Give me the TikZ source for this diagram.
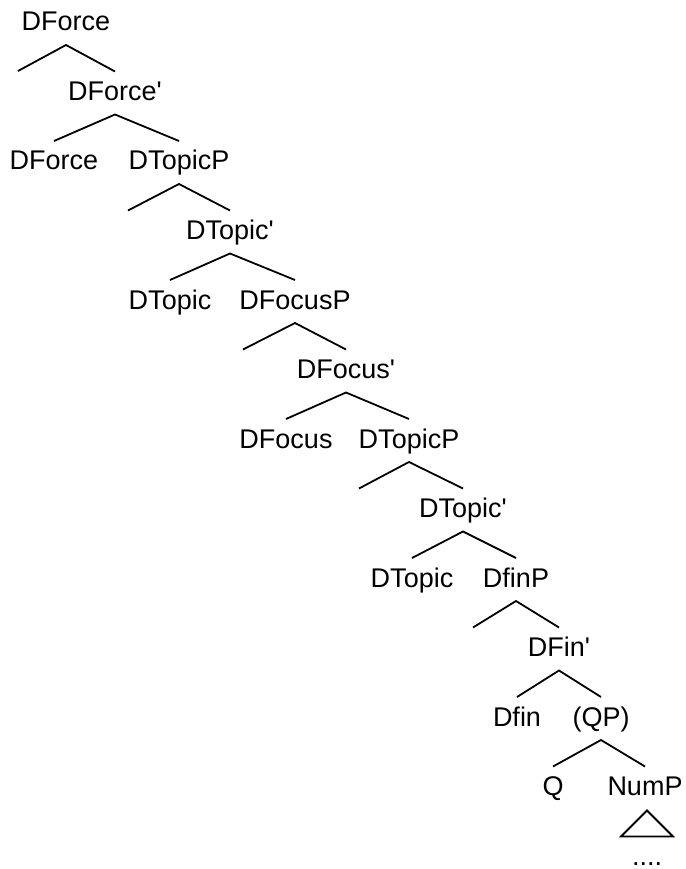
\documentclass[tikz,border=0pt]{standalone}
\usepackage{fontspec}
\setmainfont{Liberation Sans}[Ligatures=TeXOff]
\begin{document}
\begin{tikzpicture}[x=1pt,y=-1pt,
  tn/.style={anchor=base,inner sep=0pt,font=\fontsize{27}{32}\selectfont},
  br/.style={line width=1.8pt,line join=miter}]
\useasboundingbox (0,0) rectangle (685,869);
% rows at baseline 31 + 69.5k
\node[tn] (forceP)   at (66,31)    {DForce};
\node[tn] (forceB)   at (115,100.5) {DForce'};
\node[tn] (forceH)   at (54,170)   {DForce};
\node[tn] (topicP)   at (179,170)  {DTopicP};
\node[tn] (topicB)   at (230,239.5) {DTopic'};
\node[tn] (topicH)   at (170,309)  {DTopic};
\node[tn] (focusP)   at (295,309)  {DFocusP};
\node[tn] (focusB)   at (346,378.5) {DFocus'};
\node[tn] (focusH)   at (286,448)  {DFocus};
\node[tn] (topicPb)  at (409,448)  {DTopicP};
\node[tn] (topicBb)  at (463,517.5) {DTopic'};
\node[tn] (topicHb)  at (412,587)  {DTopic};
\node[tn] (finP)     at (516,587)  {DfinP};
\node[tn] (finB)     at (559,656.5) {DFin'};
\node[tn] (finH)     at (517,726)  {Dfin};
\node[tn] (qp)       at (601,726)  {(QP)};
\node[tn] (q)        at (553,795.5) {Q};
\node[tn] (numP)     at (645,795.5) {NumP};
\node[tn] (dots)     at (647,865)  {....};
% free specifier ends
\coordinate (s1) at (18,71);
\coordinate (s2) at (128,210.5);
\coordinate (s3) at (243,349.5);
\coordinate (s4) at (359,488.5);
\coordinate (s5) at (473,627.5);
% branches
\draw[br] (s1) -- ([yshift=-14pt]forceP.base) -- ([yshift=29pt]forceB.base);
\draw[br] ([yshift=29pt]forceH.base) -- ([yshift=-14pt]forceB.base) -- ([yshift=29pt]topicP.base);
\draw[br] (s2) -- ([yshift=-14pt]topicP.base) -- ([yshift=29pt]topicB.base);
\draw[br] ([yshift=29pt]topicH.base) -- ([yshift=-14pt]topicB.base) -- ([yshift=29pt]focusP.base);
\draw[br] (s3) -- ([yshift=-14pt]focusP.base) -- ([yshift=29pt]focusB.base);
\draw[br] ([yshift=29pt]focusH.base) -- ([yshift=-14pt]focusB.base) -- ([yshift=29pt]topicPb.base);
\draw[br] (s4) -- ([yshift=-14pt]topicPb.base) -- ([yshift=29pt]topicBb.base);
\draw[br] ([yshift=29pt]topicHb.base) -- ([yshift=-14pt]topicBb.base) -- ([yshift=29pt]finP.base);
\draw[br] (s5) -- ([yshift=-14pt]finP.base) -- ([yshift=29pt]finB.base);
\draw[br] ([yshift=29pt]finH.base) -- ([yshift=-14pt]finB.base) -- ([yshift=29pt]qp.base);
\draw[br] ([yshift=29pt]q.base) -- ([yshift=-14pt]qp.base) -- ([yshift=29pt]numP.base);
% triangle
\draw[br] ([shift={(2pt,-15pt)}]numP.base) -- ([shift={(-24pt,-41pt)}]numP.base) -- ([shift={(28pt,-41pt)}]numP.base) -- cycle;
\end{tikzpicture}
\end{document}
